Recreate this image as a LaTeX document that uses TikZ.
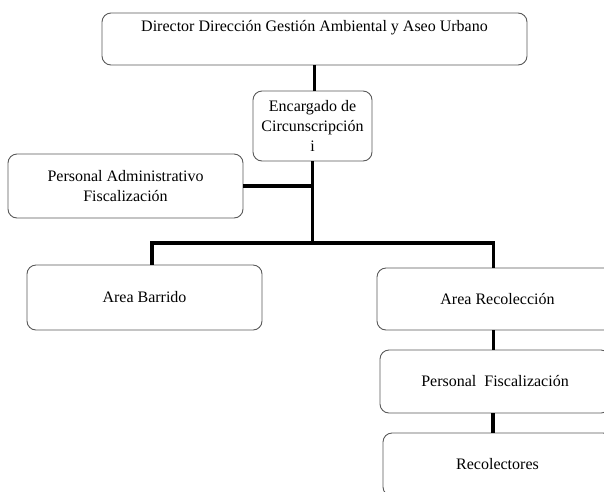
\documentclass[tikz,border=0pt]{standalone}
\usepackage{fontspec}
\setmainfont{Liberation Serif}
\usepackage{tikz}

\begin{document}
\begin{tikzpicture}[x=1pt, y=-1pt,
	caja/.style={draw=black!65, line width=0.9pt, rounded corners=9pt, align=center,
		font=\fontsize{16}{20}\selectfont, inner sep=0pt},
	linea/.style={line width=3.2pt}]

\useasboundingbox (0,0) rectangle (604,491);
\clip (0,0) rectangle (604,491);

% cajas
\node[caja, minimum width=425pt, minimum height=52pt, text height=12pt, text depth=28pt] (dir) at (314.5,39) {Director Dirección Gestión Ambiental y Aseo Urbano};
\node[caja, minimum width=119pt, minimum height=70pt] (enc) at (312.5,126) {Encargado de\\Circunscripción\\i};
\node[caja, minimum width=235pt, minimum height=64pt] (adm) at (125.5,186) {Personal Administrativo\\Fiscalización};
\node[caja, minimum width=235pt, minimum height=65pt] (barrido) at (144.5,297.5) {Area Barrido};
\node[caja, minimum width=241pt, minimum height=62pt] (recol) at (497.5,299) {Area Recolección};
\node[caja, minimum width=230pt, minimum height=63pt] (pf) at (495,381.5) {Personal\ \ Fiscalización};
\node[caja, minimum width=229pt, minimum height=63pt] (reco) at (497.5,464.5) {Recolectores};

\coordinate (split) at (enc.south |- 0,243);

% lineas
\draw[linea] (dir.south) -- (dir.south |- enc.north);
\draw[linea] (enc.south) -- (split);
\draw[linea] (adm.east) -- (adm.east -| enc.south);
\draw[linea] ([xshift=7.5pt]barrido.north) |- (split) -| ([xshift=-4pt]recol.north);
\draw[linea] ([xshift=-4pt]recol.south) -- ([xshift=-4pt]recol.south |- pf.north);
\draw[linea] ([xshift=-2pt]pf.south) -- ([xshift=-2pt]pf.south |- reco.north);

\end{tikzpicture}
\end{document}
